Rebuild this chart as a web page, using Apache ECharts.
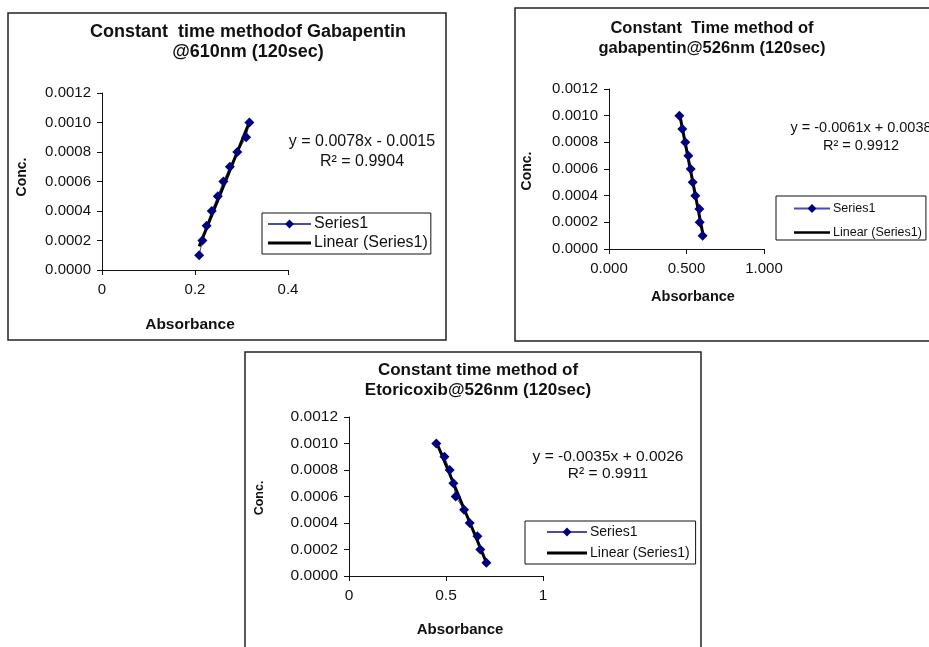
<!DOCTYPE html>
<html>
<head>
<meta charset="utf-8">
<script src="https://cdn.jsdelivr.net/npm/echarts@6/dist/echarts.min.js"></script>
<style>
html, body { margin: 0; padding: 0; background: #fff; }
#main { width: 929px; height: 647px; }
</style>
</head>
<body>
<div id="main"></div>
<script>
// concentration (y) is shared by all three plots
var conc = [0.0001, 0.0002, 0.0003, 0.0004, 0.0005, 0.0006, 0.0007, 0.0008, 0.0009, 0.0010];
// absorbance readings (x), one list per plot
var absGaba610 = [0.209, 0.216, 0.225, 0.236, 0.249, 0.261, 0.275, 0.291, 0.310, 0.317];
var absGaba526 = [0.604, 0.585, 0.583, 0.557, 0.540, 0.527, 0.512, 0.492, 0.473, 0.454];
var absEtori526 = [0.708, 0.677, 0.662, 0.622, 0.593, 0.550, 0.538, 0.519, 0.492, 0.450];

var titles = [
	"Constant  time methodof Gabapentin\n@610nm (120sec)",
	"Constant  Time method of\ngabapentin@526nm (120sec)",
	"Constant time method of\nEtoricoxib@526nm (120sec)"
];
var equations = [
	["y = 0.0078x - 0.0015", "R\u00b2 = 0.9904"],
	["y = -0.0061x + 0.0038", "R\u00b2 = 0.9912"],
	["y = -0.0035x + 0.0026", "R\u00b2 = 0.9911"]
];
var xTicks = [[0, 0.4, 0.2], [0, 1, 0.5], [0, 1, 0.5]];

var FONT = "Liberation Sans, Arial, sans-serif";

function trend(xs, ys) {
	var n = xs.length, mx = 0, my = 0, sxy = 0, sxx = 0;
	for (var i = 0; i < n; i++) { mx += xs[i] / n; my += ys[i] / n; }
	for (var j = 0; j < n; j++) {
		sxy += (xs[j] - mx) * (ys[j] - my);
		sxx += (xs[j] - mx) * (xs[j] - mx);
	}
	var m = sxy / sxx, c = my - m * mx;
	var lo = Math.min.apply(null, xs), hi = Math.max.apply(null, xs);
	return [[lo, m * lo + c], [hi, m * hi + c]];
}

function pairs(xs) {
	return xs.map(function (x, i) { return [x, conc[i]]; });
}

var grids = [
	{ left: 102, top: 93, width: 186, height: 177 },
	{ left: 609, top: 89, width: 155, height: 160 },
	{ left: 349, top: 417, width: 194, height: 159 }
];
var tickFont = [15, 15, 15.5];
var legendFont = [16, 12.5, 14];
var eqFont = [16, 14.5, 15.5];
var xDigits = [null, 3, null];

var xAxes = [], yAxes = [], series = [];
var absSets = [absGaba610, absGaba526, absEtori526];
for (var k = 0; k < 3; k++) {
	(function (k) {
		xAxes.push({
			gridIndex: k, type: "value",
			min: xTicks[k][0], max: xTicks[k][1], interval: xTicks[k][2],
			axisLine: { show: true, onZero: false, lineStyle: { color: "#111", width: 1 } },
			axisTick: { show: true, inside: false, length: 5, lineStyle: { color: "#111" } },
			splitLine: { show: false },
			axisLabel: {
				margin: 12, color: "#111", fontSize: tickFont[k], fontFamily: FONT,
				formatter: function (v) { return xDigits[k] ? v.toFixed(xDigits[k]) : String(+v.toFixed(4)); }
			}
		});
		yAxes.push({
			gridIndex: k, type: "value", min: 0, max: 0.0012, interval: 0.0002,
			axisLine: { show: true, lineStyle: { color: "#111", width: 1 } },
			axisTick: { show: true, inside: false, length: 5, lineStyle: { color: "#111" } },
			splitLine: { show: false },
			axisLabel: {
				margin: 11, color: "#111", fontSize: tickFont[k], fontFamily: FONT,
				formatter: function (v) { return v.toFixed(4); }
			}
		});
		series.push({
			name: "Series1", type: "line", xAxisIndex: k, yAxisIndex: k,
			data: pairs(absSets[k]),
			symbol: "diamond", symbolSize: 10,
			color: "#000080",
			itemStyle: { color: "#000080" },
			lineStyle: { color: "#4a4ab0", width: 1 },
			animation: false
		});
		series.push({
			name: "Linear (Series1)", type: "line", xAxisIndex: k, yAxisIndex: k,
			data: trend(absSets[k], conc),
			showSymbol: false, symbol: "none",
			color: "#000",
			itemStyle: { color: "#000" },
			lineStyle: { color: "#000", width: 3 },
			animation: false
		});
	})(k);
}

var legendPos = [
	{ left: 262, top: 213, padding: [3, 3, 3, 5], itemWidth: 43, itemGap: 3 },
	{ left: 776, top: 196, padding: [6, 4, 1, 17], itemWidth: 36, itemGap: 11 },
	{ left: 525, top: 521, padding: [4, 6, 4, 21], itemWidth: 40, itemGap: 7 }
];
var legends = legendPos.map(function (p, k) {
	return {
		orient: "vertical", left: p.left, top: p.top, padding: p.padding,
		itemWidth: p.itemWidth, itemHeight: 11, itemGap: p.itemGap,
		borderColor: "#111", borderWidth: 1, selectedMode: false,
		textStyle: { fontSize: legendFont[k], fontFamily: FONT, color: "#111", padding: [0, 0, 0, -2] },
		data: ["Series1", { name: "Linear (Series1)", icon: "path://M0,0H40V3H0Z", itemStyle: { color: "#000" } }]
	};
});

var titlePos = [[248, 22, 18, 20], [712, 18, 16.5, 20], [478, 361, 17, 19.5]];
var titleList = titlePos.map(function (p, k) {
	return {
		text: titles[k], left: p[0], top: p[1], textAlign: "center", padding: 0,
		textStyle: { fontSize: p[2], fontWeight: "bold", fontFamily: FONT, color: "#111", lineHeight: p[3] }
	};
});

// chart frames, axis names and trendline equations
var boxes = [[8, 13, 438, 327], [515, 8, 420, 333], [245, 352, 456, 300]];
var eqPos = [[362, 142, 162], [861, 128, 146], [608, 457, 474]];
var xNamePos = [[190, 325, 15.5], [693, 297, 14.5], [460, 630, 15]];
var yNamePos = [[22, 177, 14], [527, 171, 14], [260, 498, 12.5]];
var graphics = [];
boxes.forEach(function (b) {
	graphics.push({ type: "rect", shape: { x: b[0], y: b[1], width: b[2], height: b[3] },
		style: { fill: null, stroke: "#222", lineWidth: 1.5 }, silent: true });
});
eqPos.forEach(function (p, k) {
	[1, 2].forEach(function (r) {
		graphics.push({ type: "text", x: p[0], y: p[r],
			style: { text: equations[k][r - 1], fontSize: eqFont[k], fontFamily: FONT, fill: "#111",
				textAlign: "center", textVerticalAlign: "middle" } });
	});
});
xNamePos.forEach(function (p) {
	graphics.push({ type: "text", x: p[0], y: p[1],
		style: { text: "Absorbance", fontSize: p[2], fontWeight: "bold", fontFamily: FONT, fill: "#111",
			textAlign: "center", textVerticalAlign: "middle" } });
});
yNamePos.forEach(function (p) {
	graphics.push({ type: "text", x: p[0], y: p[1], rotation: Math.PI / 2,
		style: { text: "Conc.", fontSize: p[2], fontWeight: "bold", fontFamily: FONT, fill: "#111",
			textAlign: "center", textVerticalAlign: "middle" } });
});

var chart = echarts.init(document.getElementById("main"));
chart.setOption({
	animation: false,
	backgroundColor: "#fff",
	textStyle: { fontFamily: FONT },
	title: titleList,
	legend: legends,
	grid: grids,
	xAxis: xAxes,
	yAxis: yAxes,
	series: series,
	graphic: graphics
});
</script>
</body>
</html>
